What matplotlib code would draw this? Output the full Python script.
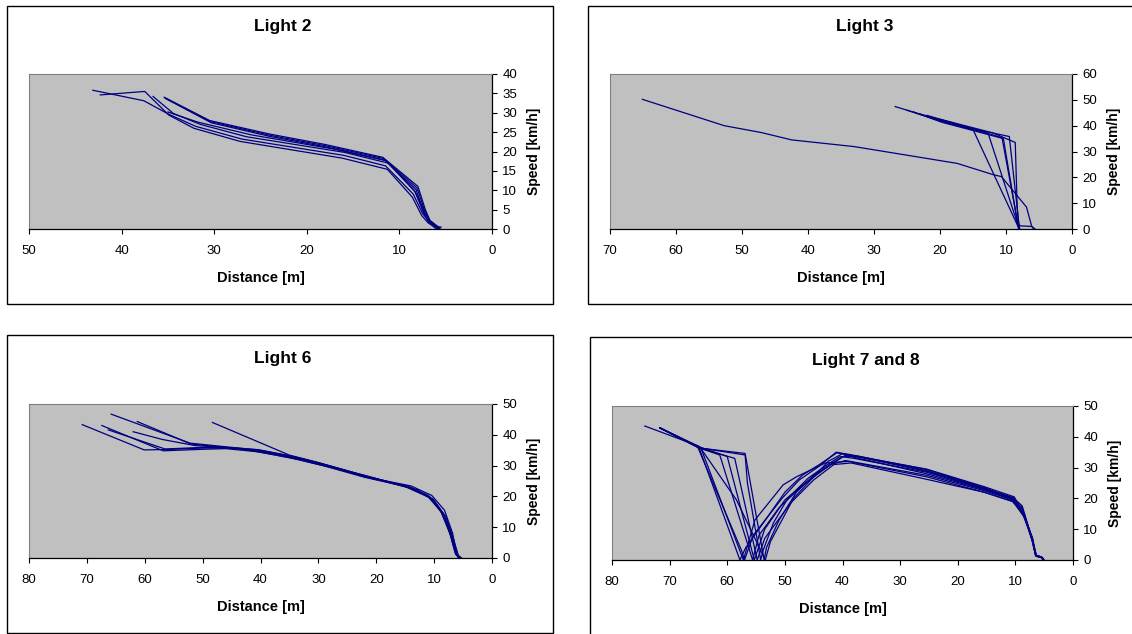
import matplotlib
matplotlib.use("Agg")
import matplotlib.pyplot as plt
from matplotlib.patches import Rectangle

plt.rcParams['font.family'] = ['Liberation Sans', 'DejaVu Sans']

NAVY = '#000080'

# ---- Light 2: distance [m] / speed [km/h] per vehicle ----
light2_dist = [
    [43.1, 37.6, 34.9, 32.0, 27.0, 16.0, 11.5, 8.5, 7.5, 6.8, 6.2, 5.8],
    [42.3, 37.5, 34.9, 32.2, 27.2, 16.2, 11.3, 8.6, 7.6, 6.9, 6.3, 6.0],
    [36.6, 34.4, 31.5, 26.5, 16.0, 11.2, 8.3, 7.4, 6.8, 6.1, 5.7],
    [35.0, 31.8, 26.0, 17.0, 11.4, 8.4, 7.3, 6.7, 6.0, 5.6],
    [35.4, 30.5, 24.0, 18.0, 11.8, 8.0, 7.2, 6.7, 6.1, 5.6],
    [35.3, 30.4, 24.0, 18.0, 11.7, 8.1, 7.3, 6.8, 6.2, 5.8],
    [35.2, 30.3, 24.0, 18.0, 11.6, 8.2, 7.4, 6.9, 6.0, 5.5],
]
light2_speed = [
    [35.8, 33.1, 29.6, 26.5, 23.2, 19.0, 16.3, 9.0, 4.0, 2.0, 0.8, 0.0],
    [34.6, 35.5, 29.4, 26.0, 22.6, 18.3, 15.4, 8.2, 3.5, 1.6, 0.6, 0.0],
    [34.2, 29.8, 27.0, 23.8, 19.8, 17.0, 9.6, 4.2, 2.0, 0.8, 0.0],
    [30.2, 27.6, 24.3, 20.6, 17.6, 10.0, 4.6, 2.2, 0.9, 0.0],
    [34.0, 28.0, 24.5, 21.8, 18.5, 11.0, 5.0, 2.2, 1.0, 0.3],
    [33.8, 27.7, 24.2, 21.5, 18.2, 10.6, 5.0, 2.0, 0.8, 0.0],
    [33.6, 27.4, 23.9, 21.2, 17.8, 10.2, 4.5, 1.8, 0.5, 0.5],
]

# ---- Light 3 ----
light3_dist = [
    [65.1, 52.7, 47.0, 42.5, 33.0, 17.4, 11.9, 10.7, 6.9, 6.1, 5.6],
    [26.8, 19.7, 15.0, 8.0],
    [25.0, 19.7, 12.7, 8.0],
    [24.0, 19.7, 10.4, 8.1],
    [22.0, 15.0, 9.5, 8.0, 7.9],
    [20.0, 12.0, 8.6, 8.3, 8.0],
    [23.0, 14.0, 10.6, 8.2, 7.8, 6.1, 5.8],
]
light3_speed = [
    [50.2, 40.0, 37.3, 34.5, 31.9, 25.4, 21.0, 20.3, 8.5, 1.0, 0.0],
    [47.4, 41.8, 38.5, 0.0],
    [46.0, 41.6, 37.0, 0.0],
    [45.3, 41.3, 35.0, 0.0],
    [44.0, 38.8, 35.8, 1.0, 0.0],
    [42.5, 37.2, 33.5, 8.0, 0.0],
    [44.5, 38.0, 35.3, 2.0, 1.2, 1.0, 0.0],
]

# ---- Light 6 ----
light6_dist = [
    [70.8, 60.1, 56.5, 50.0, 45.0, 40.5, 35.0, 30.0, 22.5, 14.5, 10.8, 8.5, 6.9, 6.1, 5.6],
    [67.4, 56.8, 50.0, 46.0, 40.5, 35.0, 29.0, 22.0, 14.2, 10.6, 8.3, 7.0, 6.0, 5.4],
    [65.8, 52.2, 47.0, 40.0, 34.0, 28.0, 21.0, 14.0, 10.4, 8.2, 6.8, 6.2, 5.7],
    [61.3, 52.0, 46.0, 40.0, 33.0, 26.0, 20.0, 14.8, 11.0, 8.8, 7.2, 6.3, 5.6],
    [62.0, 57.0, 51.3, 45.0, 39.0, 33.0, 27.0, 20.0, 14.0, 10.2, 8.0, 6.6, 5.9, 5.3],
    [48.3, 35.0, 30.0, 24.0, 17.0, 13.0, 10.0, 8.0, 6.6, 5.8, 5.3],
    [66.3, 56.5, 50.0, 44.0, 39.0, 33.5, 27.0, 21.0, 15.0, 11.2, 9.0, 7.4, 6.4, 5.8],
]
light6_speed = [
    [43.3, 35.1, 35.2, 35.7, 35.8, 35.2, 33.2, 30.9, 26.8, 23.3, 20.0, 14.6, 7.0, 1.2, 0.0],
    [43.0, 34.8, 35.3, 35.5, 34.5, 32.6, 29.9, 26.2, 22.9, 19.4, 13.8, 6.5, 1.0, 0.0],
    [46.7, 37.3, 36.3, 35.0, 32.8, 29.9, 26.0, 23.4, 20.3, 15.5, 8.0, 1.5, 0.0],
    [44.3, 37.0, 35.9, 34.8, 32.0, 28.8, 25.6, 23.0, 19.8, 15.0, 7.5, 1.2, 0.0],
    [41.0, 38.5, 36.5, 35.7, 34.3, 32.3, 29.3, 25.8, 22.6, 19.2, 13.5, 6.0, 0.8, 0.0],
    [44.0, 33.4, 31.0, 27.8, 24.3, 22.2, 18.6, 12.5, 5.5, 0.8, 0.0],
    [41.6, 35.4, 35.9, 35.6, 34.0, 32.0, 29.0, 25.9, 23.5, 20.5, 16.0, 9.0, 2.0, 0.0],
]

# ---- Light 7 and 8 ----
light78_dist = [
    [74.3, 65.0, 57.8, 56.8, 53.0, 50.5, 47.5, 44.0, 41.1, 38.6, 25.4, 15.4, 10.4, 8.8, 7.2, 6.5, 5.5, 5.1],
    [71.7, 64.5, 57.2, 55.2, 50.3, 48.0, 43.0, 39.0, 25.4, 15.4, 10.4, 8.5, 7.0, 6.4, 5.4, 5.1],
    [71.7, 64.7, 61.3, 55.6, 54.5, 51.0, 47.0, 43.0, 40.0, 38.0, 25.4, 15.4, 10.6, 8.5, 7.1, 6.4, 5.5, 5.2],
    [71.7, 64.5, 60.0, 55.3, 53.5, 50.0, 46.5, 42.0, 39.5, 25.4, 15.4, 10.4, 8.7, 7.0, 6.4, 5.3, 5.0],
    [71.7, 64.6, 58.7, 54.8, 53.5, 49.0, 45.0, 41.5, 38.5, 25.4, 15.4, 10.5, 8.4, 7.0, 6.3, 5.3, 5.1],
    [71.7, 64.8, 56.9, 56.5, 54.2, 53.8, 52.0, 49.5, 46.0, 43.0, 40.5, 37.5, 25.4, 15.4, 10.4, 9.0, 7.2, 6.5, 5.5, 5.2],
    [71.7, 64.6, 56.9, 53.6, 53.2, 51.0, 48.0, 45.0, 42.0, 39.5, 25.4, 15.4, 10.4, 8.6, 7.1, 6.4, 5.4, 5.1],
    [71.7, 64.5, 58.4, 53.4, 52.5, 50.5, 48.5, 45.0, 42.5, 40.0, 25.4, 15.4, 10.4, 8.8, 7.0, 6.4, 5.4, 5.1],
    [71.7, 65.2, 57.5, 57.0, 55.5, 53.0, 50.0, 47.0, 44.0, 41.0, 25.4, 15.4, 10.2, 9.2, 7.1, 6.5, 5.5, 5.2],
]
light78_speed = [
    [43.5, 37.0, 0.0, 4.0, 14.0, 20.0, 26.0, 30.5, 35.0, 34.2, 29.4, 23.5, 20.0, 17.5, 7.5, 1.5, 1.0, 0.0],
    [42.9, 36.0, 0.0, 13.0, 24.4, 27.0, 31.5, 32.0, 27.0, 22.0, 19.0, 14.0, 6.0, 1.3, 0.8, 0.0],
    [42.9, 36.3, 34.1, 0.0, 8.0, 17.0, 24.0, 30.0, 33.5, 33.0, 28.5, 23.0, 19.5, 15.0, 6.5, 1.3, 0.8, 0.0],
    [42.9, 36.5, 33.6, 0.0, 10.0, 19.5, 25.0, 31.0, 32.3, 27.5, 22.5, 19.5, 15.5, 7.0, 1.5, 0.8, 0.0],
    [42.9, 36.2, 33.0, 0.0, 7.0, 18.5, 26.0, 31.0, 31.5, 26.2, 22.0, 19.0, 14.5, 6.0, 1.2, 0.7, 0.0],
    [42.9, 36.4, 34.1, 25.0, 0.0, 3.0, 12.0, 20.0, 26.5, 30.5, 33.5, 33.8, 29.0, 23.2, 20.3, 17.8, 7.0, 1.5, 1.0, 0.0],
    [42.9, 36.3, 34.6, 0.0, 4.0, 13.0, 22.0, 27.5, 31.0, 34.0, 28.0, 22.8, 19.8, 15.0, 7.0, 1.2, 0.8, 0.0],
    [42.9, 36.0, 19.5, 0.0, 6.0, 13.0, 20.0, 27.0, 32.0, 34.5, 28.8, 23.3, 20.0, 16.5, 6.5, 1.3, 0.9, 0.0],
    [42.9, 37.0, 3.0, 0.0, 8.0, 14.0, 22.0, 27.5, 31.0, 34.8, 29.5, 23.8, 20.5, 17.0, 7.5, 1.6, 1.0, 0.0],
]

W, H = 1132, 634
fig = plt.figure(figsize=(W / 100, H / 100), dpi=100)


def px_rect(x0, y0, x1, y1):
    # pixel box (top-left origin) -> figure fraction [left, bottom, width, height]
    return [x0 / W, 1 - y1 / H, (x1 - x0) / W, (y1 - y0) / H]


def frame(x0, y0, x1, y1):
    l, b, w, h = px_rect(x0, y0, x1, y1)
    fig.patches.append(Rectangle((l, b), w, h, transform=fig.transFigure,
                                 fill=False, edgecolor='black', linewidth=1.0))


def panel(box, title, title_xy, dists, speeds, xmax, ymax, ystep):
    ax = fig.add_axes(px_rect(*box))
    ax.set_facecolor('#C0C0C0')
    for d, s in zip(dists, speeds):
        ax.plot(d, s, color=NAVY, linewidth=0.9)
    ax.set_xlim(xmax, 0)
    ax.set_ylim(0, ymax)
    ax.set_xticks(range(0, xmax + 1, 10))
    ax.set_yticks(range(0, ymax + 1, ystep))
    ax.yaxis.tick_right()
    ax.yaxis.set_label_position('right')
    for side in ('top', 'left'):
        ax.spines[side].set_color('#808080')
        ax.spines[side].set_linewidth(0.8)
    for side in ('bottom', 'right'):
        ax.spines[side].set_color('black')
        ax.spines[side].set_linewidth(0.9)
    ax.tick_params(axis='x', direction='out', length=3.5, width=0.8, pad=8, labelsize=9.5)
    ax.tick_params(axis='y', direction='out', length=3.5, width=0.8, pad=4, labelsize=9.5)
    ax.set_xlabel('Distance [m]', fontsize=10.5, fontweight='bold')
    ax.set_ylabel('Speed [km/h]', fontsize=10, fontweight='bold')
    ax.xaxis.set_label_coords(0.5, -0.27)
    ax.yaxis.set_label_coords(1.075, 0.5)
    fig.text(title_xy[0] / W, 1 - title_xy[1] / H, title, ha='center', va='center',
             fontsize=12.5, fontweight='bold')
    return ax


frame(7, 6, 553, 304)
frame(588, 6, 1140, 304)
frame(7, 335, 553, 633)
frame(590, 337, 1142, 645)

panel((29, 74, 492, 229), 'Light 2', (283, 27), light2_dist, light2_speed, 50, 40, 5)
panel((610, 74, 1072, 229), 'Light 3', (865, 27), light3_dist, light3_speed, 70, 60, 10)
panel((29, 404, 492, 558), 'Light 6', (283, 358), light6_dist, light6_speed, 80, 50, 10)
panel((612, 406, 1073, 560), 'Light 7 and 8', (866, 360), light78_dist, light78_speed, 80, 50, 10)

fig.savefig('out.png', dpi=100)
